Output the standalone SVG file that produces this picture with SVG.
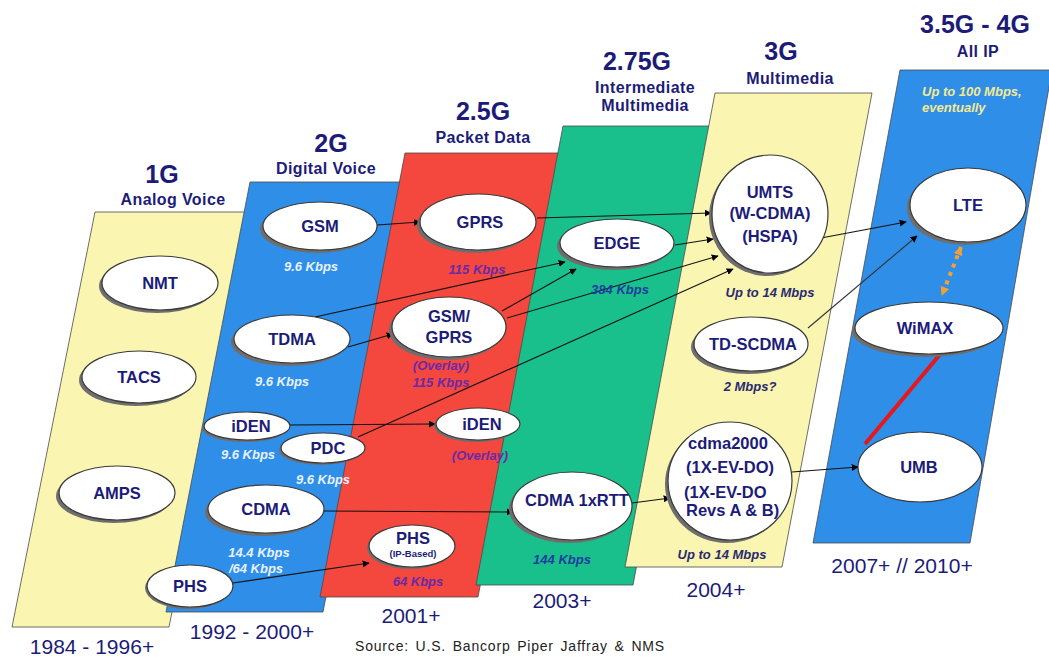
<svg xmlns="http://www.w3.org/2000/svg" width="1049" height="657" viewBox="0 0 1049 657">
<defs>
<marker id="ah" viewBox="0 0 10 10" refX="9" refY="5" markerWidth="7" markerHeight="7" orient="auto" markerUnits="userSpaceOnUse"><path d="M0,0 L10,5 L0,10 z" fill="#000"/></marker>
<marker id="ah2" viewBox="0 0 10 10" refX="9" refY="5" markerWidth="9" markerHeight="9" orient="auto-start-reverse" markerUnits="userSpaceOnUse"><path d="M0,0 L10,5 L0,10 z" fill="#f5a030"/></marker>
<style>
text{font-family:"Liberation Sans",Arial,sans-serif;}
.gen{font-size:25px;font-weight:bold;fill:#1c1c78;text-anchor:middle;}
.sub{font-size:16px;font-weight:bold;fill:#1c1c78;text-anchor:middle;letter-spacing:0.4px;}
.yr{font-size:21px;fill:#1c1c78;text-anchor:middle;}
.lbl{font-size:16.5px;font-weight:bold;fill:#1c1c78;text-anchor:middle;}
.sm{font-size:9.5px;font-weight:bold;fill:#1c1c78;text-anchor:middle;}
.spw{font-size:13px;font-weight:bold;font-style:italic;fill:#e8f2ff;text-anchor:middle;}
.spp{font-size:13px;font-weight:bold;font-style:italic;fill:#6a2aa8;text-anchor:middle;}
.spb{font-size:13px;font-weight:bold;font-style:italic;fill:#1f3d9e;text-anchor:middle;}
.spn{font-size:13px;font-weight:bold;font-style:italic;fill:#2a2a70;text-anchor:middle;}
.spy{font-size:13px;font-weight:bold;font-style:italic;fill:#f3ea90;}
.sh{fill:#6e6e6e;}
.el{fill:#fff;stroke:#3a3a3a;stroke-width:1.2;}
.pan{stroke:#4a4a4a;stroke-width:0.8;}
.cn{fill:none;stroke:#111;stroke-width:1.1;marker-end:url(#ah);}
</style>
</defs>
<rect width="1049" height="657" fill="#fff"/>
<g id="panels">
<polygon class="pan" points="95,212 252,212 169,627 12,627" fill="#faf6b2"/>
<polygon class="pan" points="250,182 407,182 323,612 166,612" fill="#2e8ee8"/>
<polygon class="pan" points="405,153 563,153 478,597 320,597" fill="#f4473d"/>
<polygon class="pan" points="563,126 720,126 633,585 476,585" fill="#19c08c"/>
<polygon class="pan" points="715,93 872,93 782,567 625,567" fill="#faf6b2"/>
<polygon class="pan" points="900,70 1052,70 970,543 813,543" fill="#2e8ee8"/>
</g>
<g id="headers">
<text class="gen" x="162" y="183">1G</text><text class="sub" x="173" y="205">Analog Voice</text>
<text class="gen" x="331" y="152">2G</text><text class="sub" x="326" y="174">Digital Voice</text>
<text class="gen" x="483" y="120">2.5G</text><text class="sub" x="483" y="143">Packet Data</text>
<text class="gen" x="637" y="70">2.75G</text><text class="sub" x="645" y="93">Intermediate</text><text class="sub" x="645" y="111">Multimedia</text>
<text class="gen" x="781" y="60">3G</text><text class="sub" x="790" y="84">Multimedia</text>
<text class="gen" x="975" y="33">3.5G - 4G</text><text class="sub" x="978" y="57">All IP</text>
</g>
<g id="years">
<text class="yr" x="92" y="654">1984 - 1996+</text>
<text class="yr" x="252" y="639">1992 - 2000+</text>
<text class="yr" x="411" y="623">2001+</text>
<text class="yr" x="562" y="608">2003+</text>
<text class="yr" x="716" y="597">2004+</text>
<text class="yr" x="902" y="573">2007+ // 2010+</text>
<text x="510" y="651" style="font-size:14px;fill:#222;text-anchor:middle;letter-spacing:0.8px;word-spacing:2px">Source:  U.S. Bancorp Piper Jaffray &amp; NMS</text>
</g>
<g id="connectors">
<line class="cn" x1="377" y1="225" x2="420" y2="222"/>
<line class="cn" x1="315" y1="317" x2="565" y2="262"/>
<line class="cn" x1="348" y1="347" x2="393" y2="334"/>
<line class="cn" x1="502" y1="311" x2="576" y2="269"/>
<line class="cn" x1="507" y1="318" x2="718" y2="256"/>
<line class="cn" x1="537" y1="218" x2="711" y2="213"/>
<line class="cn" x1="675" y1="245" x2="713" y2="239"/>
<line class="cn" x1="358" y1="437" x2="733" y2="269"/>
<line class="cn" x1="290" y1="425" x2="435" y2="424"/>
<line class="cn" x1="323" y1="511" x2="513" y2="512"/>
<line class="cn" x1="233" y1="583" x2="369" y2="563"/>
<line class="cn" x1="632" y1="503" x2="670" y2="498"/>
<line class="cn" x1="792" y1="472" x2="858" y2="467"/>
<line class="cn" x1="821" y1="238" x2="906" y2="222"/>
<line class="cn" x1="808" y1="328" x2="917" y2="236" style="stroke:#333"/>
<line x1="961" y1="247" x2="942" y2="295" stroke="#f5a030" stroke-width="4" stroke-dasharray="4 5" marker-start="url(#ah2)" marker-end="url(#ah2)"/>
<line x1="942" y1="352" x2="865" y2="444" stroke="#e8181a" stroke-width="4"/>
</g>
<g id="n-nmt"><ellipse class="sh" cx="157" cy="286" rx="58" ry="27"/><ellipse class="el" cx="160" cy="283" rx="58" ry="27"/><text class="lbl" x="160" y="289">NMT</text></g>
<g id="n-tacs"><ellipse class="sh" cx="136" cy="380" rx="57" ry="26"/><ellipse class="el" cx="139" cy="377" rx="57" ry="26"/><text class="lbl" x="139" y="383">TACS</text></g>
<g id="n-amps"><ellipse class="sh" cx="114" cy="496" rx="58" ry="27"/><ellipse class="el" cx="117" cy="493" rx="58" ry="27"/><text class="lbl" x="117" y="499">AMPS</text></g>

<g id="n-gsm"><ellipse class="sh" cx="317" cy="229" rx="57" ry="24"/><ellipse class="el" cx="320" cy="226" rx="57" ry="24"/><text class="lbl" x="320" y="232">GSM</text><text class="spw" x="311" y="271">9.6 Kbps</text></g>
<g id="n-tdma"><ellipse class="sh" cx="289" cy="342" rx="58" ry="24"/><ellipse class="el" cx="292" cy="339" rx="58" ry="24"/><text class="lbl" x="292" y="345">TDMA</text><text class="spw" x="282" y="386">9.6 Kbps</text></g>
<g id="n-iden1"><ellipse class="sh" cx="245" cy="428" rx="43" ry="14"/><ellipse class="el" cx="247" cy="426" rx="43" ry="14"/><text class="lbl" x="251" y="432">iDEN</text><text class="spw" x="248" y="459">9.6 Kbps</text></g>
<g id="n-pdc"><ellipse class="sh" cx="321" cy="450" rx="42" ry="15"/><ellipse class="el" cx="323" cy="448" rx="42" ry="15"/><text class="lbl" x="328" y="454">PDC</text><text class="spw" x="323" y="484">9.6 Kbps</text></g>
<g id="n-cdma"><ellipse class="sh" cx="263" cy="512" rx="58" ry="24"/><ellipse class="el" cx="266" cy="509" rx="58" ry="24"/><text class="lbl" x="266" y="515">CDMA</text><text class="spw" x="259" y="557">14.4 Kbps</text><text class="spw" x="256" y="573">/64 Kbps</text></g>
<g id="n-phs1"><ellipse class="sh" cx="188" cy="588" rx="43" ry="21"/><ellipse class="el" cx="190" cy="586" rx="43" ry="21"/><text class="lbl" x="190" y="592">PHS</text></g>

<g id="n-gprs"><ellipse class="sh" cx="475" cy="225" rx="58" ry="28"/><ellipse class="el" cx="478" cy="222" rx="58" ry="28"/><text class="lbl" x="480" y="228">GPRS</text><text class="spp" x="477" y="274">115 Kbps</text></g>
<g id="n-gsmgprs"><ellipse class="sh" cx="446" cy="330" rx="57" ry="30"/><ellipse class="el" cx="449" cy="327" rx="57" ry="30"/><text class="lbl" x="449" y="322">GSM/</text><text class="lbl" x="449" y="343">GPRS</text><text class="spp" x="441" y="370">(Overlay)</text><text class="spp" x="441" y="387">115 Kbps</text></g>
<g id="n-iden2"><ellipse class="sh" cx="476" cy="426" rx="42" ry="16"/><ellipse class="el" cx="478" cy="424" rx="42" ry="16"/><text class="lbl" x="482" y="430">iDEN</text><text class="spp" x="480" y="460">(Overlay)</text></g>
<g id="n-phs2"><ellipse class="sh" cx="410" cy="548" rx="43" ry="21"/><ellipse class="el" cx="412" cy="546" rx="43" ry="21"/><text class="lbl" x="413" y="544">PHS</text><text class="sm" x="413" y="557">(IP-Based)</text><text class="spp" x="418" y="586">64 Kbps</text></g>

<g id="n-edge"><ellipse class="sh" cx="614" cy="246" rx="57" ry="24"/><ellipse class="el" cx="617" cy="243" rx="57" ry="24"/><text class="lbl" x="617" y="249">EDGE</text><text class="spb" x="620" y="294">384 Kbps</text></g>
<g id="n-1xrtt"><ellipse class="sh" cx="569" cy="509" rx="60" ry="34"/><ellipse class="el" cx="572" cy="506" rx="60" ry="34"/><text class="lbl" x="577" y="506">CDMA 1xRTT</text><text class="spb" x="562" y="564">144 Kbps</text></g>

<g id="n-umts"><ellipse class="sh" cx="767" cy="217" rx="58" ry="59"/><ellipse class="el" cx="770" cy="214" rx="58" ry="59"/><text class="lbl" x="770" y="198">UMTS</text><text class="lbl" x="770" y="219">(W-CDMA)</text><text class="lbl" x="770" y="242">(HSPA)</text><text class="spn" x="770" y="297">Up to 14 Mbps</text></g>
<g id="n-tdscdma"><ellipse class="sh" cx="748" cy="347" rx="57" ry="27"/><ellipse class="el" cx="751" cy="344" rx="57" ry="27"/><text class="lbl" x="753" y="350">TD-SCDMA</text><text class="spn" x="750" y="391">2 Mbps?</text></g>
<g id="n-cdma2000"><ellipse class="sh" cx="727" cy="484" rx="62" ry="59"/><ellipse class="el" cx="730" cy="481" rx="62" ry="59"/><text class="lbl" x="728" y="449">cdma2000</text><text class="lbl" x="730" y="473">(1X-EV-DO)</text><text class="lbl" x="684" y="498" style="text-anchor:start">(1X-EV-DO</text><text class="lbl" x="686" y="516" style="text-anchor:start">Revs A &amp; B)</text><text class="spn" x="722" y="559">Up to 14 Mbps</text></g>

<g id="n-lte"><ellipse class="sh" cx="965" cy="208" rx="58" ry="37"/><ellipse class="el" cx="968" cy="205" rx="58" ry="37"/><text class="lbl" x="968" y="211">LTE</text><text class="spy" x="922" y="96">Up to 100 Mbps,</text><text class="spy" x="922" y="112">eventually</text></g>
<g id="n-wimax"><ellipse class="sh" cx="926" cy="331" rx="74" ry="26"/><ellipse class="el" cx="929" cy="328" rx="74" ry="26"/><text class="lbl" x="925" y="334">WiMAX</text></g>
<g id="n-umb"><ellipse class="el" cx="920" cy="467" rx="62" ry="35"/><text class="lbl" x="919" y="473">UMB</text></g>
</svg>
